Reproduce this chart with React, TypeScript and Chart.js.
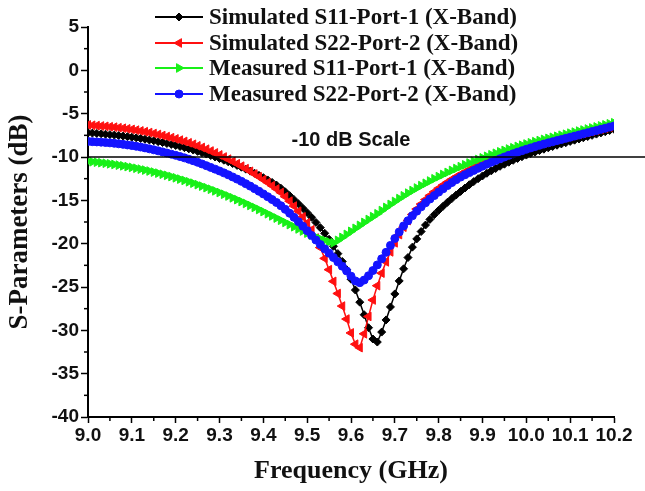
import React, { useEffect, useRef } from 'react';
import { Chart, registerables } from 'chart.js';
import { drawPoint } from 'chart.js/helpers';

Chart.register(...registerables);

const FREQ_GHZ = [
  9.0, 9.01, 9.02, 9.03, 9.04, 9.05, 9.06, 9.07, 9.08, 9.09,
  9.1, 9.11, 9.12, 9.13, 9.14, 9.15, 9.16, 9.17, 9.18, 9.19,
  9.2, 9.21, 9.22, 9.23, 9.24, 9.25, 9.26, 9.27, 9.28, 9.29,
  9.3, 9.31, 9.32, 9.33, 9.34, 9.35, 9.36, 9.37, 9.38, 9.39,
  9.4, 9.41, 9.42, 9.43, 9.44, 9.45, 9.46, 9.47, 9.48, 9.49,
  9.5, 9.51, 9.52, 9.53, 9.54, 9.55, 9.56, 9.57, 9.58, 9.59,
  9.6, 9.61, 9.62, 9.63, 9.64, 9.65, 9.66, 9.67, 9.68, 9.69,
  9.7, 9.71, 9.72, 9.73, 9.74, 9.75, 9.76, 9.77, 9.78, 9.79,
  9.8, 9.81, 9.82, 9.83, 9.84, 9.85, 9.86, 9.87, 9.88, 9.89,
  9.9, 9.91, 9.92, 9.93, 9.94, 9.95, 9.96, 9.97, 9.98, 9.99,
  10.0, 10.01, 10.02, 10.03, 10.04, 10.05, 10.06, 10.07, 10.08, 10.09,
  10.1, 10.11, 10.12, 10.13, 10.14, 10.15, 10.16, 10.17, 10.18, 10.19,
  10.2,
];

const SIM_S11 = [
  -7.2, -7.24, -7.28, -7.32, -7.37, -7.42, -7.47, -7.53, -7.59, -7.65,
  -7.72, -7.79, -7.87, -7.95, -8.04, -8.13, -8.23, -8.33, -8.44, -8.55,
  -8.67, -8.79, -8.92, -9.06, -9.2, -9.35, -9.5, -9.66, -9.83, -10.0,
  -10.18, -10.37, -10.56, -10.76, -10.97, -11.18, -11.4, -11.63, -11.87, -12.12,
  -12.38, -12.65, -12.93, -13.24, -13.6, -14.02, -14.46, -14.92, -15.4, -15.9,
  -16.42, -16.96, -17.55, -18.15, -18.8, -19.5, -20.3, -21.15, -22.05, -23.0,
  -24.1, -25.35, -26.75, -28.2, -29.7, -31.0, -31.35, -30.2, -28.8, -27.3,
  -25.8, -24.3, -22.9, -21.6, -20.4, -19.45, -18.6, -17.85, -17.2, -16.65,
  -16.15, -15.68, -15.23, -14.8, -14.38, -13.97, -13.58, -13.2, -12.84, -12.5,
  -12.18, -11.88, -11.6, -11.33, -11.07, -10.83, -10.6, -10.38, -10.17, -9.97,
  -9.78, -9.6, -9.43, -9.26, -9.1, -8.94, -8.79, -8.64, -8.49, -8.35,
  -8.2, -8.06, -7.92, -7.78, -7.64, -7.5, -7.36, -7.22, -7.08, -6.94,
  -6.8,
];

const SIM_S22 = [
  -6.3, -6.34, -6.38, -6.42, -6.46, -6.51, -6.56, -6.62, -6.68, -6.75,
  -6.82, -6.9, -6.99, -7.08, -7.18, -7.29, -7.4, -7.52, -7.64, -7.77,
  -7.91, -8.05, -8.2, -8.36, -8.53, -8.71, -8.9, -9.1, -9.31, -9.53,
  -9.76, -10.0, -10.25, -10.51, -10.78, -11.06, -11.35, -11.65, -11.96, -12.28,
  -12.61, -12.95, -13.31, -13.69, -14.1, -14.58, -15.1, -15.66, -16.26, -16.9,
  -17.6, -18.4, -19.35, -20.45, -21.7, -23.0, -24.35, -25.75, -27.2, -28.7,
  -30.3, -31.6, -32.0, -30.4, -28.4, -26.5, -24.85, -23.4, -22.1, -20.95,
  -19.9, -18.95, -18.1, -17.33, -16.63, -16.0, -15.43, -14.91, -14.44, -14.01,
  -13.61, -13.24, -12.9, -12.58, -12.28, -12.0, -11.73, -11.47, -11.22, -10.98,
  -10.75, -10.53, -10.32, -10.12, -9.93, -9.75, -9.57, -9.4, -9.24, -9.08,
  -8.93, -8.78, -8.64, -8.5, -8.37, -8.24, -8.11, -7.99, -7.87, -7.75,
  -7.63, -7.51, -7.39, -7.27, -7.15, -7.03, -6.91, -6.79, -6.67, -6.55,
  -6.43,
];

const MEAS_S11 = [
  -10.5, -10.55, -10.6, -10.66, -10.72, -10.79, -10.86, -10.94, -11.02, -11.11,
  -11.2, -11.3, -11.4, -11.51, -11.62, -11.74, -11.86, -11.99, -12.12, -12.26,
  -12.4, -12.55, -12.7, -12.86, -13.02, -13.19, -13.36, -13.54, -13.72, -13.91,
  -14.1, -14.3, -14.5, -14.71, -14.92, -15.14, -15.36, -15.59, -15.82, -16.06,
  -16.3, -16.55, -16.8, -17.05, -17.3, -17.55, -17.8, -18.05, -18.3, -18.54,
  -18.78, -19.01, -19.23, -19.44, -19.63, -19.8, -19.9, -19.62, -19.28, -18.93,
  -18.58, -18.23, -17.89, -17.55, -17.21, -16.88, -16.55, -16.18, -15.82, -15.47,
  -15.13, -14.8, -14.48, -14.17, -13.87, -13.58, -13.3, -13.03, -12.77, -12.51,
  -12.26, -12.02, -11.78, -11.55, -11.33, -11.11, -10.9, -10.69, -10.49, -10.29,
  -10.1, -9.92, -9.74, -9.57, -9.4, -9.24, -9.08, -8.93, -8.78, -8.64,
  -8.5, -8.36, -8.23, -8.1, -7.97, -7.85, -7.73, -7.61, -7.49, -7.37,
  -7.25, -7.13, -7.01, -6.89, -6.77, -6.65, -6.53, -6.41, -6.29, -6.17,
  -6.05,
];

const MEAS_S22 = [
  -8.2, -8.23, -8.26, -8.29, -8.33, -8.37, -8.42, -8.48, -8.54, -8.61,
  -8.68, -8.76, -8.85, -8.95, -9.06, -9.17, -9.29, -9.41, -9.54, -9.67,
  -9.81, -9.95, -10.1, -10.26, -10.43, -10.61, -10.8, -11.0, -11.2, -11.4,
  -11.61, -11.83, -12.06, -12.3, -12.55, -12.81, -13.08, -13.36, -13.65, -13.95,
  -14.26, -14.58, -14.91, -15.25, -15.62, -16.04, -16.49, -16.96, -17.46, -17.98,
  -18.5, -19.05, -19.58, -20.1, -20.6, -21.1, -21.6, -22.1, -22.6, -23.15,
  -23.75, -24.3, -24.5, -24.2, -23.7, -23.1, -22.45, -21.75, -21.0, -20.2,
  -19.4, -18.65, -17.95, -17.35, -16.78, -16.25, -15.75, -15.28, -14.85, -14.45,
  -14.05, -13.67, -13.3, -12.95, -12.62, -12.32, -12.05, -11.8, -11.55, -11.3,
  -11.06, -10.83, -10.61, -10.4, -10.2, -10.0, -9.81, -9.63, -9.45, -9.28,
  -9.11, -8.95, -8.8, -8.65, -8.51, -8.37, -8.24, -8.11, -7.98, -7.85,
  -7.72, -7.59, -7.46, -7.33, -7.2, -7.07, -6.94, -6.81, -6.68, -6.55,
  -6.42,
];

const SERIES_LABELS = [
  'Simulated S11-Port-1 (X-Band)',
  'Simulated S22-Port-2 (X-Band)',
  'Measured S11-Port-1 (X-Band)',
  'Measured S22-Port-2 (X-Band)',
];

const REF_LEVEL_DB = -10;
const REF_LABEL = '-10 dB Scale';
const X_TITLE = 'Frequency (GHz)';
const Y_TITLE = 'S-Parameters (dB)';
const X_MIN = 9.0;
const X_MAX = 10.2;
const X_STEP = 0.1;
const Y_MIN = -40;
const Y_MAX = 5;
const Y_STEP = 5;

const SANS = '"Liberation Sans", Arial, sans-serif';
const SERIF = '"Liberation Serif", "Times New Roman", serif';

type Style = { color: string; pointStyle: string; rotation: number; radius: number };

const STYLES: Style[] = [
  { color: '#000000', pointStyle: 'rectRot', rotation: 0, radius: 4 },
  { color: '#ff1010', pointStyle: 'triangle', rotation: -90, radius: 5 },
  { color: '#18f018', pointStyle: 'triangle', rotation: 90, radius: 5 },
  { color: '#1414ff', pointStyle: 'circle', rotation: 0, radius: 4 },
];

const SERIES = [SIM_S11, SIM_S22, MEAS_S11, MEAS_S22];
const DRAW_ORDER = [4, 3, 2, 1];

const refLinePlugin = {
  id: 'refLine',
  afterDatasetsDraw(chart: any) {
    const { ctx, chartArea, scales } = chart;
    const y = scales.y.getPixelForValue(REF_LEVEL_DB);
    ctx.save();
    ctx.strokeStyle = '#000';
    ctx.lineWidth = 1.6;
    ctx.beginPath();
    ctx.moveTo(chartArea.left, y);
    ctx.lineTo(chart.width, y);
    ctx.stroke();
    ctx.fillStyle = '#111';
    ctx.font = `bold 20px ${SANS}`;
    ctx.textAlign = 'center';
    ctx.textBaseline = 'middle';
    ctx.fillText(REF_LABEL, (chartArea.left + chartArea.right) / 2, y - 17);
    ctx.restore();
  },
};

const minorTickPlugin = {
  id: 'minorTicks',
  afterDraw(chart: any) {
    const { ctx, chartArea, scales } = chart;
    ctx.save();
    ctx.strokeStyle = '#000';
    ctx.lineWidth = 1.5;
    const xs = scales.x.ticks.map((t: any) => t.value);
    for (let i = 0; i < xs.length - 1; i++) {
      const px = scales.x.getPixelForValue((xs[i] + xs[i + 1]) / 2);
      ctx.beginPath();
      ctx.moveTo(px, chartArea.bottom);
      ctx.lineTo(px, chartArea.bottom + 4);
      ctx.stroke();
    }
    const ys = scales.y.ticks.map((t: any) => t.value);
    for (let i = 0; i < ys.length - 1; i++) {
      const py = scales.y.getPixelForValue((ys[i] + ys[i + 1]) / 2);
      ctx.beginPath();
      ctx.moveTo(chartArea.left, py);
      ctx.lineTo(chartArea.left - 4, py);
      ctx.stroke();
    }
    ctx.restore();
  },
};

const legendPlugin = {
  id: 'customLegend',
  afterDraw(chart: any) {
    const { ctx } = chart;
    ctx.save();
    const rowY = [17, 43, 68, 94];
    SERIES_LABELS.forEach((label, i) => {
      const st = STYLES[i];
      const y = rowY[i];
      ctx.strokeStyle = st.color;
      ctx.fillStyle = st.color;
      ctx.lineWidth = 2;
      ctx.beginPath();
      ctx.moveTo(155, y);
      ctx.lineTo(203, y);
      ctx.stroke();
      ctx.lineWidth = 1;
      drawPoint(ctx, { pointStyle: st.pointStyle, rotation: st.rotation, radius: st.radius, borderWidth: 1 } as any, 179, y);
      ctx.fillStyle = '#111';
      ctx.font = `bold 23px ${SERIF}`;
      ctx.textAlign = 'left';
      ctx.textBaseline = 'middle';
      ctx.fillText(label, 209, y + 1);
    });
    ctx.restore();
  },
};

export default function App() {
  const ref = useRef<HTMLCanvasElement | null>(null);

  useEffect(() => {
    if (!ref.current) return;
    const datasets = SERIES.map((vals, i) => ({
      label: SERIES_LABELS[i],
      data: FREQ_GHZ.map((f, j) => ({ x: f, y: vals[j] })),
      borderColor: STYLES[i].color,
      backgroundColor: STYLES[i].color,
      borderWidth: 1.5,
      pointStyle: STYLES[i].pointStyle,
      pointRotation: STYLES[i].rotation,
      pointRadius: STYLES[i].radius,
      pointBorderWidth: 1,
      pointBackgroundColor: STYLES[i].color,
      pointBorderColor: STYLES[i].color,
      tension: 0,
      order: DRAW_ORDER[i],
    }));

    const chart = new Chart(ref.current, {
      type: 'line',
      data: { datasets },
      options: {
        animation: false,
        responsive: false,
        events: [],
        layout: { padding: { top: 27, right: 31, left: 0, bottom: 0 } },
        plugins: { legend: { display: false }, tooltip: { enabled: false } },
        scales: {
          x: {
            type: 'linear',
            min: X_MIN,
            max: X_MAX,
            ticks: {
              stepSize: X_STEP,
              autoSkip: false,
              maxRotation: 0,
              padding: 1,
              color: '#111',
              font: { family: SANS, size: 19, weight: 'bold' },
              callback: (v: any) => Number(v).toFixed(1),
            },
            grid: { drawOnChartArea: false, tickLength: 6, tickColor: '#000', tickWidth: 1.5 },
            border: { color: '#000', width: 2 },
            title: {
              display: true,
              text: X_TITLE,
              color: '#111',
              font: { family: SERIF, size: 26, weight: 'bold' },
              padding: { top: 0, bottom: 4 },
            },
            afterFit: (s: any) => { s.height = 74; },
          },
          y: {
            type: 'linear',
            min: Y_MIN,
            max: Y_MAX,
            ticks: {
              stepSize: Y_STEP,
              padding: 2,
              color: '#111',
              font: { family: SANS, size: 19, weight: 'bold' },
            },
            grid: { drawOnChartArea: false, tickLength: 7, tickColor: '#000', tickWidth: 1.5 },
            border: { color: '#000', width: 2 },
            title: {
              display: true,
              text: Y_TITLE,
              color: '#111',
              font: { family: SERIF, size: 27, weight: 'bold' },
              padding: { top: 4, bottom: 0 },
            },
            afterFit: (s: any) => { s.width = 88; },
          },
        },
      } as any,
      plugins: [refLinePlugin, minorTickPlugin, legendPlugin],
    });
    return () => chart.destroy();
  }, []);

  return (
    <div style={{ position: 'absolute', left: 0, top: 0, width: 645, height: 491, background: '#fff' }}>
      <canvas ref={ref} width={645} height={491} style={{ display: 'block' }} />
    </div>
  );
}
